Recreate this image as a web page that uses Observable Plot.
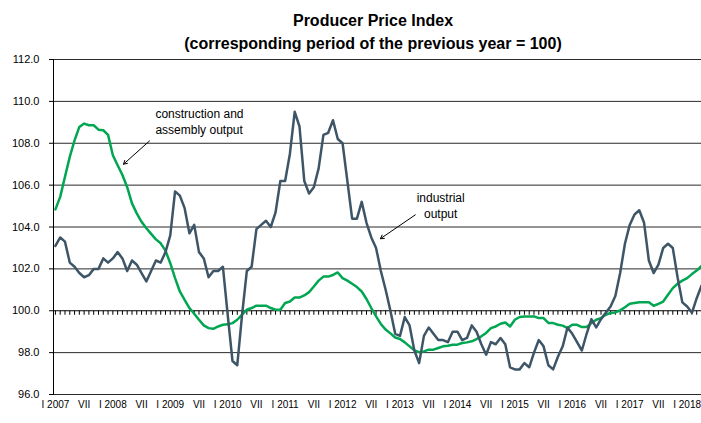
<!DOCTYPE html>
<html>
<head>
<meta charset="utf-8">
<script src="https://cdn.jsdelivr.net/npm/d3@7"></script>
<script src="https://cdn.jsdelivr.net/npm/@observablehq/plot@0.6"></script>
<style>
  html, body { margin: 0; padding: 0; background: #fff; }
  #title { width: 701px; box-sizing: border-box; padding: 9px 0 0 45px; height: 45px;
    font: bold 16px "Liberation Sans", Arial, sans-serif; line-height: 23px; text-align: center; color: #000; }
  #chart svg { display: block; overflow: visible; }
</style>
</head>
<body>
<div id="title">Producer Price Index<br>(corresponding period of the previous year = 100)</div>
<div id="chart"></div>
<script>
// Producer price index, corresponding period of the previous year = 100, monthly from January 2007
const industrialOutput = [
  103.1, 103.5, 103.3, 102.3, 102.1, 101.8, 101.6, 101.7, 102.0, 102.0, 102.5, 102.3, // 2007
  102.5, 102.8, 102.5, 101.9, 102.4, 102.2, 101.8, 101.4, 101.9, 102.4, 102.3, 102.8, // 2008
  103.6, 105.7, 105.5, 104.9, 103.7, 104.1, 102.8, 102.5, 101.6, 101.9, 101.9, 102.1, // 2009
  99.8, 97.6, 97.4, 99.8, 101.9, 102.1, 103.9, 104.1, 104.3, 104.0, 104.7, 106.2,     // 2010
  106.2, 107.5, 109.5, 108.8, 106.2, 105.6, 105.9, 106.8, 108.4, 108.5, 109.1, 108.2, // 2011
  108.0, 106.2, 104.4, 104.4, 105.2, 104.2, 103.5, 103.0, 101.9, 101.0, 100.0, 98.9,  // 2012
  98.8, 99.7, 99.3, 98.1, 97.5, 98.8, 99.2, 98.9, 98.6, 98.6, 98.5, 99.0,             // 2013
  99.0, 98.6, 98.7, 99.3, 99.0, 98.4, 97.9, 98.5, 98.4, 98.7, 98.4, 97.3,             // 2014
  97.2, 97.2, 97.5, 97.3, 98.0, 98.6, 98.3, 97.4, 97.2, 97.8, 98.3, 99.2,             // 2015
  98.9, 98.5, 98.1, 98.9, 99.6, 99.2, 99.6, 99.9, 100.2, 100.7, 101.8, 103.2,         // 2016
  104.1, 104.6, 104.8, 104.2, 102.4, 101.8, 102.2, 103.0, 103.2, 103.0, 101.6, 100.4, // 2017
  100.2, 99.9, 100.6, 101.2                                                           // 2018
];
const constructionOutput = [
  104.84, 105.44, 106.4, 107.35, 108.14, 108.78, 108.94, 108.86, 108.86, 108.65, 108.62, 108.4, // 2007
  107.43, 106.95, 106.48, 105.9, 105.13, 104.65, 104.25, 103.94, 103.67, 103.41, 103.22, 102.87, // 2008
  102.27, 101.56, 100.92, 100.52, 100.13, 99.86, 99.57, 99.3, 99.17, 99.14, 99.25, 99.33,       // 2009
  99.35, 99.41, 99.57, 99.81, 100.05, 100.13, 100.24, 100.24, 100.24, 100.13, 100.05, 100.05,   // 2010
  100.37, 100.44, 100.63, 100.63, 100.73, 100.89, 101.16, 101.44, 101.63, 101.63, 101.71, 101.83, // 2011
  101.56, 101.44, 101.29, 101.13, 100.92, 100.56, 100.13, 99.73, 99.37, 99.1, 98.92, 98.72,     // 2012
  98.65, 98.49, 98.3, 98.11, 98.02, 98.06, 98.14, 98.14, 98.22, 98.3, 98.33, 98.38,             // 2013
  98.38, 98.46, 98.49, 98.54, 98.65, 98.78, 98.94, 99.17, 99.25, 99.38, 99.44, 99.25,           // 2014
  99.57, 99.7, 99.73, 99.73, 99.73, 99.65, 99.65, 99.42, 99.41, 99.33, 99.29, 99.17,            // 2015
  99.33, 99.33, 99.22, 99.22, 99.41, 99.57, 99.65, 99.81, 99.89, 99.92, 100.02, 100.17,         // 2016
  100.33, 100.37, 100.41, 100.41, 100.41, 100.24, 100.33, 100.44, 100.76, 101.08, 101.29, 101.44, // 2017
  101.56, 101.75, 101.92, 102.14                                                               // 2018
];
const years = [2007, 2008, 2009, 2010, 2011, 2012, 2013, 2014, 2015, 2016, 2017, 2018];
const halfYearLabels = ["I", "VII"];
const yTicks = [96, 98, 100, 102, 104, 106, 108, 110, 112];
const baseValue = 100;

// build tables
const months = d3.range(industrialOutput.length);
const industrialRows = months.map(i => ({i, v: industrialOutput[i]}));
const constructionRows = months.map(i => ({i, v: constructionOutput[i]}));
const xTickPos = [];
const xTickText = new Map();
years.forEach((y, k) => {
  xTickPos.push(k * 12); xTickText.set(k * 12, `${halfYearLabels[0]} ${y}`);
  if (k * 12 + 6 < months.length) { xTickPos.push(k * 12 + 6); xTickText.set(k * 12 + 6, halfYearLabels[1]); }
});

const tickDown = { draw(ctx) { ctx.moveTo(0, 0); ctx.lineTo(0, 4); } };
const font = "'Liberation Sans', Arial, sans-serif";

const chart = Plot.plot({
  width: 701,
  height: 378,
  marginLeft: 53,
  marginRight: 0,
  marginTop: 14,
  marginBottom: 29,
  style: { fontFamily: font, fontSize: "11px", color: "#000", background: "#fff" },
  x: { domain: [-0.4, months.length - 1], axis: null },
  y: { domain: [96, 112], axis: null },
  marks: [
    Plot.ruleY(yTicks.filter(d => d !== baseValue), { stroke: "#2a2a2a", strokeWidth: 1 }),
    Plot.ruleY([baseValue], { stroke: "#000", strokeWidth: 1.2 }),
    Plot.dot(months, { x: d => d, y: () => baseValue, symbol: tickDown, r: 2, fill: "none", stroke: "#000", strokeWidth: 1 }),
    Plot.frame({ anchor: "left", stroke: "#000" }),
    Plot.axisY({ ticks: yTicks, tickFormat: d3.format(".1f"), tickSize: 4, tickPadding: 10, label: null, fontSize: 11 }),
    Plot.axisX({ ticks: xTickPos, tickFormat: d => xTickText.get(d), tickSize: 0, tickPadding: 6, label: null, fontSize: 10 }),
    Plot.line(constructionRows, { x: "i", y: "v", stroke: "#00a651", strokeWidth: 2.5, strokeLinejoin: "round" }),
    Plot.line(industrialRows, { x: "i", y: "v", stroke: "#3d5566", strokeWidth: 2.5, strokeLinejoin: "round" }),
    Plot.text(["construction and\nassembly output"], { x: 20.9, y: 109.06, text: d => d, textAnchor: "start", fontSize: 12, lineHeight: 1.35, fill: "#000" }),
    Plot.text(["industrial\noutput"], { x: 80.5, y: 105.06, text: d => d, textAnchor: "middle", fontSize: 12, lineHeight: 1.35, fill: "#000" }),
    Plot.arrow([{x1: 19.66, y1: 108.11, x2: 14.23, y2: 107.0}, {x1: 75.2, y1: 104.58, x2: 67.9, y2: 103.44}],
      { x1: "x1", y1: "y1", x2: "x2", y2: "y2", stroke: "#000", strokeWidth: 1, headLength: 6 })
  ]
});
document.getElementById("chart").appendChild(chart);
</script>
</body>
</html>
